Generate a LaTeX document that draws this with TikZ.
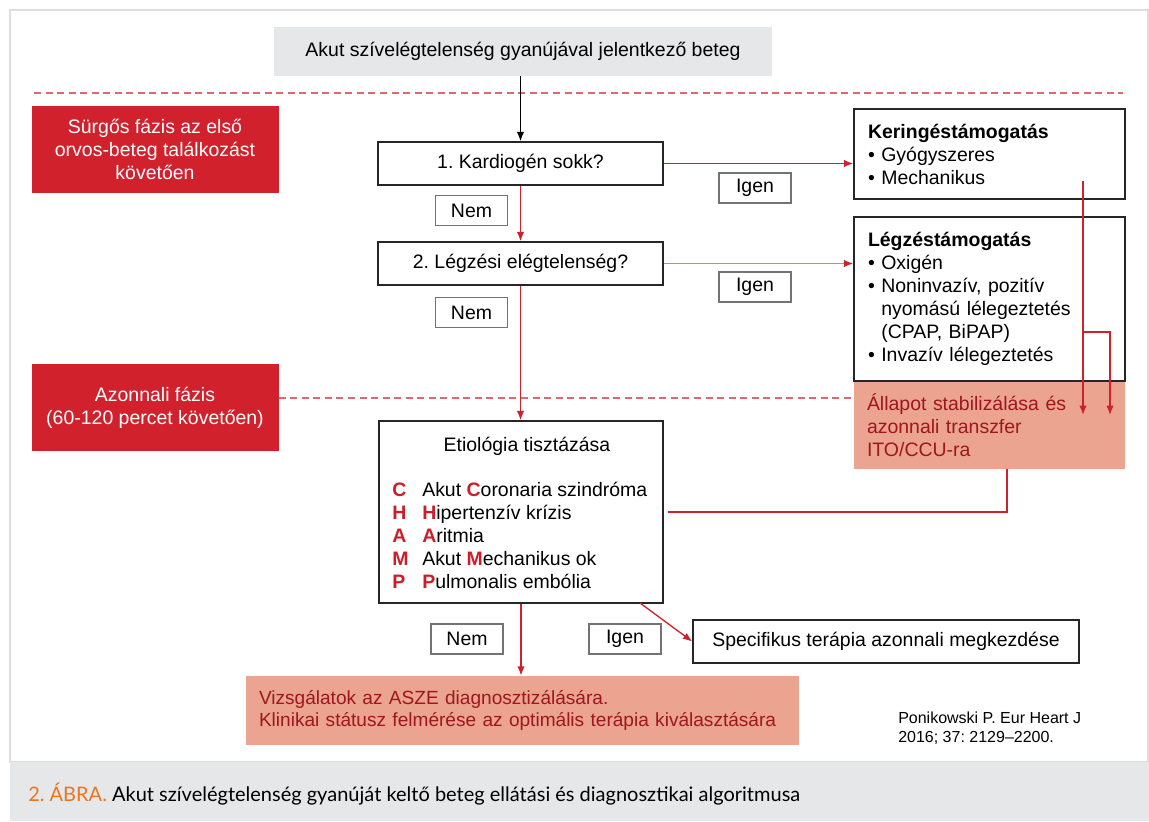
\documentclass[tikz,border=0pt]{standalone}
\usepackage{fontspec}
\setmainfont{Liberation Sans}
\newfontfamily\capfont{Lato}
\usetikzlibrary{arrows.meta,calc}
\definecolor{phasered}{RGB}{208,33,45}
\definecolor{salmon}{RGB}{234,164,144}
\definecolor{darkred}{RGB}{160,22,30}
\definecolor{arrred}{RGB}{206,32,45}
\definecolor{lightred}{RGB}{226,120,128}
\definecolor{dashred}{RGB}{220,105,112}
\definecolor{boxgray}{RGB}{230,231,232}
\definecolor{capgray}{RGB}{230,231,232}
\definecolor{framegray}{RGB}{221,221,221}
\definecolor{figorange}{RGB}{232,119,34}
\definecolor{champred}{RGB}{204,30,42}
\newcommand\mainsz{\fontsize{14.6}{17.25}\selectfont}
\newcommand\rl[1]{{\bfseries\color{champred}#1}}
\newcommand\champ[2]{\makebox[22.5pt][l]{\rl{#1}}#2}
\frenchspacing
\begin{document}
\frenchspacing
\begin{tikzpicture}[x=0.75pt,y=-0.75pt,
  box/.style={draw=black!85, line width=1.1pt, fill=white, inner sep=0pt, font=\mainsz},
  lab/.style={draw=black!55, line width=0.8pt, fill=white, minimum width=72*0.75pt, minimum height=30*0.75pt, inner sep=0pt, font=\mainsz},
  phase/.style={fill=phasered, text=white, align=center, inner sep=0pt, font=\mainsz, minimum width=247*0.75pt, minimum height=87*0.75pt},
  salbox/.style={fill=salmon, text=darkred, align=left, font=\mainsz, inner ysep=0pt},
  arr/.style={draw=arrred, line width=1pt, -{Latex[length=7pt,width=5.5pt,color=arrred]}},
  plain/.style={draw=arrred, line width=1pt},
  dashline/.style={draw=dashred, line width=1.1pt, dash pattern=on 5.25pt off 3.4pt}
]
\useasboundingbox (0,0) rectangle (1149,821);
% frame and caption band
\draw[framegray, line width=0.9pt] (10,10) rectangle (1148,762);
\fill[capgray] (10,762) rectangle (1149,821);
\node[anchor=west, inner sep=0pt, font=\capfont\fontsize{15}{18}\selectfont] (cap) at (28,794)
  {\textcolor{figorange}{2. ÁBRA.} Akut szívelégtelenség gyanúját keltő beteg ellátási és diagnosztikai algoritmusa};

% dashed phase lines
\coordinate (d1l) at (34,93);
\coordinate (d1r) at (1123,93);
\draw[dashline] (d1l) -- (d1r);

% top box
\node[fill=boxgray, minimum width=498*0.75pt, minimum height=49*0.75pt, inner sep=0pt, font=\mainsz] (top) at (523,51.5)
  {Akut szívelégtelenség gyanújával jelentkező beteg};

% phase boxes
\node[phase] (sur) at (155,149.5) {Sürgős fázis az első\\ orvos-beteg találkozást\\ követően};
\node[phase] (azon) at (155,407.5) {Azonnali fázis\\ (60-120 percet követően)};

% salmon box Allapot (drawn before lgz so the border stays visible)
\node[salbox, text width=245*0.75pt, inner xsep=13*0.75pt, minimum height=88*0.75pt] (all) at (989.5,425)
  {Állapot stabilizálása és\\ azonnali transzfer\\ ITO/CCU-ra};

\coordinate (d2) at (0,398);
\draw[dashline] (azon.east |- d2) -- (all.west |- d2);

% question boxes
\node[box, minimum width=285*0.75pt, minimum height=43*0.75pt] (b1) at (520.5,163.5) {1. Kardiogén sokk?};
\node[box, minimum width=285*0.75pt, minimum height=43*0.75pt] (b2) at (520.5,263.5) {2. Légzési elégtelenség?};

% support boxes
\node[box, text width=243*0.75pt, inner xsep=14*0.75pt, minimum height=90*0.75pt, align=left] (ker) at (989.5,154)
  {\textbf{Keringéstámogatás}\\ \textbullet\ Gyógyszeres\\ \textbullet\ Mechanikus};
\node[box, text width=243*0.75pt, inner xsep=14*0.75pt, minimum height=164*0.75pt, align=left] (lgz) at (989.5,299)
  {\textbf{Légzéstámogatás}\\ \textbullet\ Oxigén\\ \textbullet\ Noninvazív, pozitív\\ \phantom{\textbullet\ }nyomású lélegeztetés\\ \phantom{\textbullet\ }(CPAP, BiPAP)\\ \textbullet\ Invazív lélegeztetés};

% etiology box
\node[box, minimum width=284*0.75pt, minimum height=182*0.75pt] (eti) at (521,512) {};
\node[font=\mainsz, inner sep=0pt] (etit) at (527,446) {Etiológia tisztázása};
\node[font=\mainsz, align=left, anchor=west, inner sep=0pt] (champ) at (392,535)
  {\champ{C}{Akut \rl{C}oronaria szindróma}\\
   \champ{H}{\rl{H}ipertenzív krízis}\\
   \champ{A}{\rl{A}ritmia}\\
   \champ{M}{Akut \rl{M}echanikus ok}\\
   \champ{P}{\rl{P}ulmonalis embólia}};

% result boxes
\node[box, minimum width=386*0.75pt, minimum height=43*0.75pt] (spec) at (886,641.5) {Specifikus terápia azonnali megkezdése};
\node[salbox, text width=527*0.75pt, inner xsep=13*0.75pt, minimum height=69*0.75pt, font=\fontsize{14.3}{17}\selectfont] (viz) at (522.5,710.5)
  {\mbox{Vizsgálatok az ASZE diagnosztizálására.}\\ \mbox{Klinikai státusz felmérése az optimális terápia kiválasztására}};

% Nem / Igen labels
\node[lab] (nem1) at (471.5,210.5) {Nem};
\node[lab] (nem2) at (471.5,312.5) {Nem};
\node[lab] (igen1) at (755,188) {Igen};
\node[lab] (igen2) at (755,287) {Igen};
\node[lab] (nem3) at (467,639) {Nem};
\node[lab] (igen3) at (625,639) {Igen};

% citation
\node[anchor=west, align=left, inner sep=0pt, font=\fontsize{12}{14.25}\selectfont] (cite) at (898,728)
  {Ponikowski P. Eur Heart J\\ 2016; 37: 2129--2200.};

% connectors
\draw[line width=1pt, -{Latex[length=7pt,width=5.5pt]}] (b1.north |- top.south) -- (b1.north);
\draw[arr] (b1.south) -- (b2.north);
\draw[arr] (b2.south) -- (b2.south |- eti.north);
\draw[arr] (b1.east) -- (b1.east -| ker.west);
\draw[arr, draw=lightred] (b2.east) -- (b2.east -| lgz.west);
\coordinate (k1) at (1083,181);
\coordinate (k2) at (1083,332);
\coordinate (a1) at (1083,415);
\coordinate (a2) at (1110,415);
\draw[arr] (k1) -- (a1);
\draw[arr] (k2) -| (a2);
\coordinate (c1) at (1007,469);
\draw[plain] (c1) |- ([xshift=3pt]eti.east);
\draw[arr] (eti.south) -- (eti.south |- viz.north);
\coordinate (e1) at (640,603);
\draw[arr] (e1) -- (spec.west);
\end{tikzpicture}
\end{document}
